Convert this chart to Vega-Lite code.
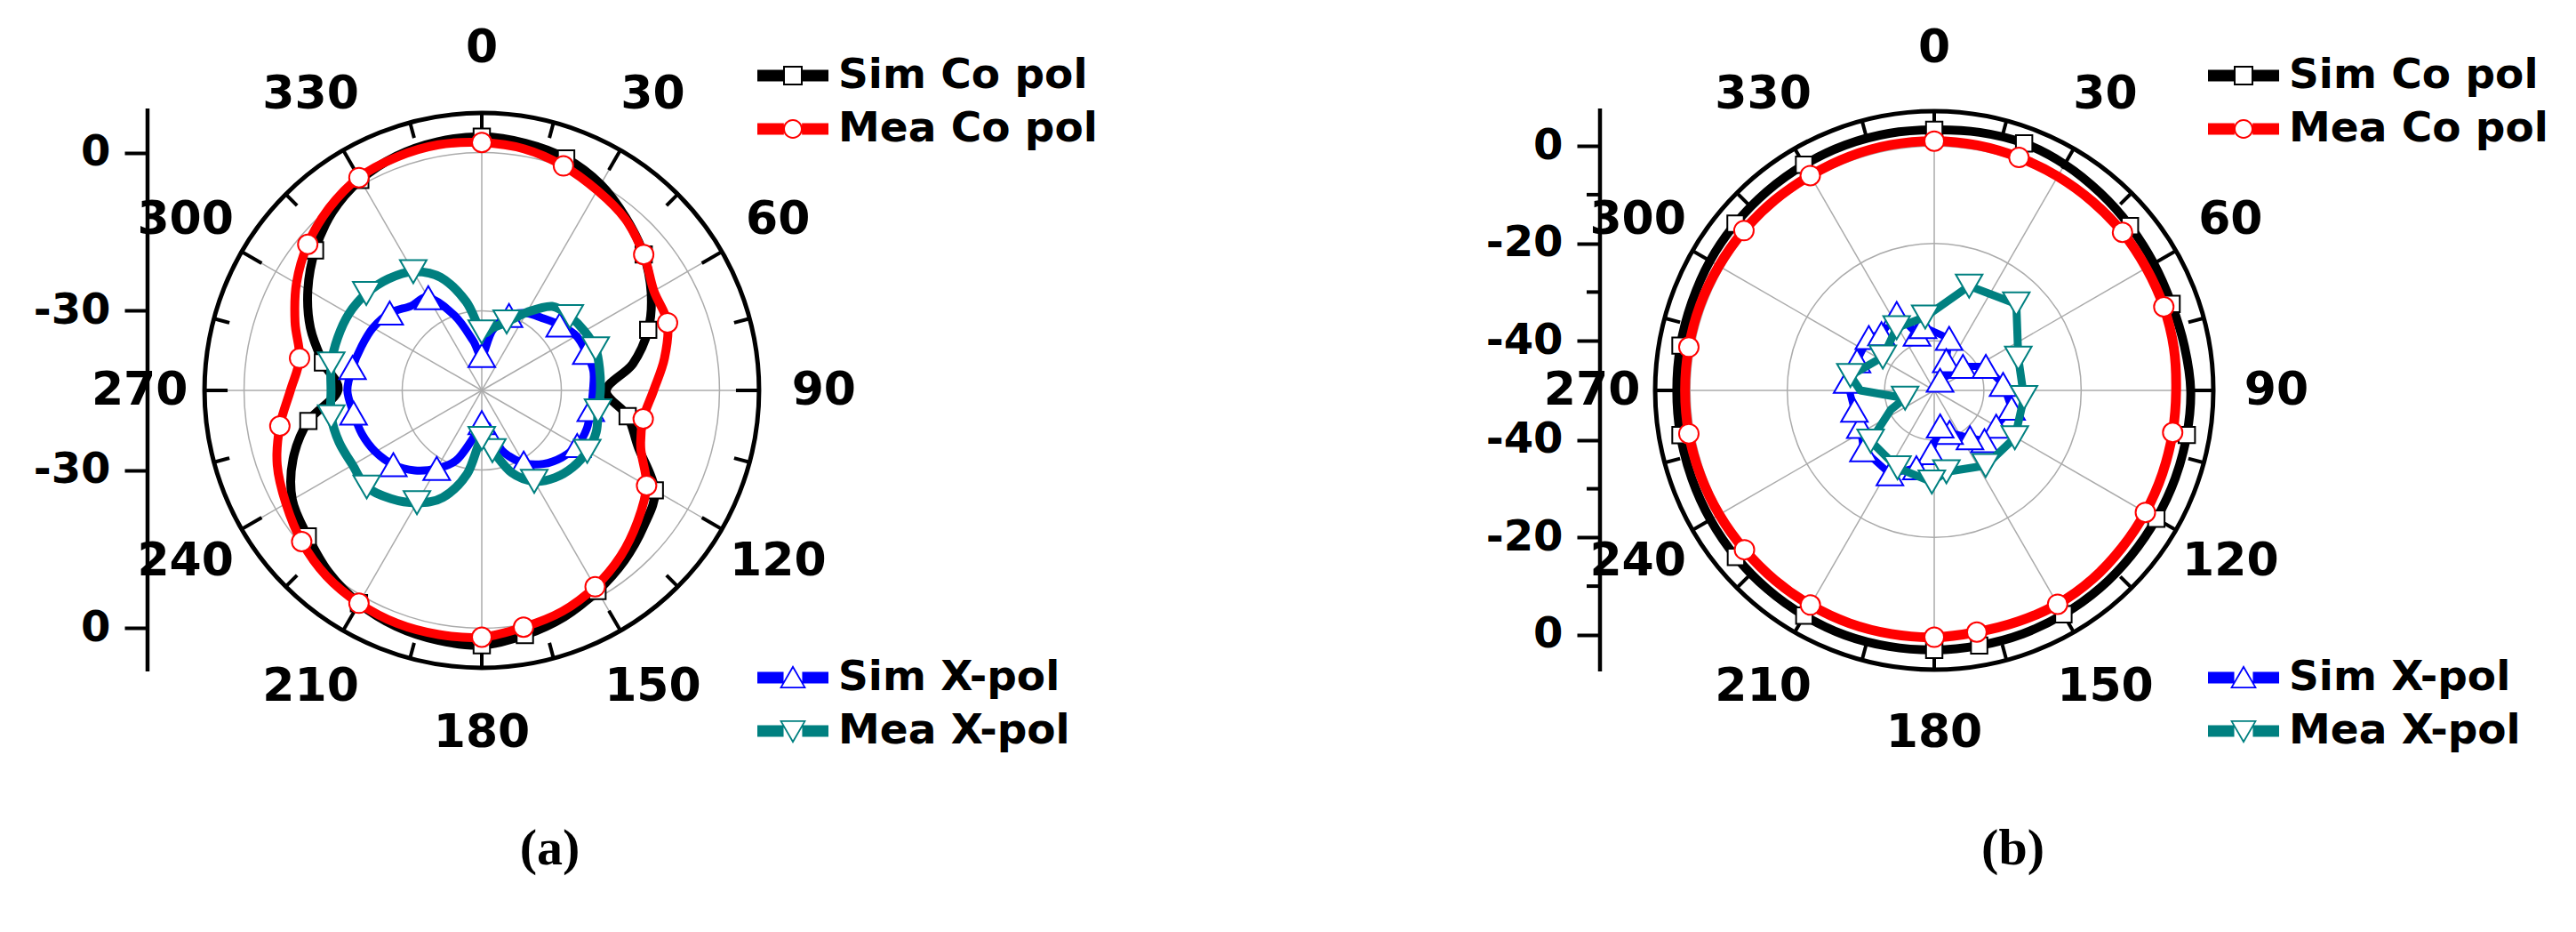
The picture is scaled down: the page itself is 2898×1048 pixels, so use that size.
{
  "$schema": "https://vega.github.io/schema/vega-lite/v6.json",
  "background": "white",
  "padding": 0,
  "spacing": 0,
  "bounds": "flush",
  "config": {"view": {"stroke": null}},
  "resolve": {"scale": {"color": "independent", "stroke": "independent"}, "legend": {"color": "independent", "stroke": "independent"}},
  "datasets": {
    "a": [
      {"series":"Sim Co pol","angle":0,"db":3.0},{"series":"Sim Co pol","angle":10,"db":2.5},{"series":"Sim Co pol","angle":20,"db":1.7},{"series":"Sim Co pol","angle":30,"db":0.0},{"series":"Sim Co pol","angle":40,"db":-2.5},{"series":"Sim Co pol","angle":50,"db":-5.0},{"series":"Sim Co pol","angle":60,"db":-8.0},{"series":"Sim Co pol","angle":70,"db":-11.5},{"series":"Sim Co pol","angle":80,"db":-16.0},{"series":"Sim Co pol","angle":90,"db":-21.5},{"series":"Sim Co pol","angle":100,"db":-17.0},{"series":"Sim Co pol","angle":110,"db":-13.5},{"series":"Sim Co pol","angle":120,"db":-7.2},{"series":"Sim Co pol","angle":130,"db":-5.0},{"series":"Sim Co pol","angle":140,"db":-3.0},{"series":"Sim Co pol","angle":150,"db":-1.2},{"series":"Sim Co pol","angle":160,"db":0.6},{"series":"Sim Co pol","angle":170,"db":2.0},{"series":"Sim Co pol","angle":180,"db":3.2},{"series":"Sim Co pol","angle":190,"db":3.0},{"series":"Sim Co pol","angle":200,"db":2.5},{"series":"Sim Co pol","angle":210,"db":1.5},{"series":"Sim Co pol","angle":220,"db":0.0},{"series":"Sim Co pol","angle":230,"db":-2.0},{"series":"Sim Co pol","angle":240,"db":-3.6},{"series":"Sim Co pol","angle":250,"db":-7.0},{"series":"Sim Co pol","angle":260,"db":-11.7},{"series":"Sim Co pol","angle":270,"db":-17.8},{"series":"Sim Co pol","angle":280,"db":-14.5},{"series":"Sim Co pol","angle":290,"db":-10.5},{"series":"Sim Co pol","angle":300,"db":-7.0},{"series":"Sim Co pol","angle":310,"db":-3.8},{"series":"Sim Co pol","angle":320,"db":-1.0},{"series":"Sim Co pol","angle":330,"db":1.0},{"series":"Sim Co pol","angle":340,"db":2.2},{"series":"Sim Co pol","angle":350,"db":2.8},
      {"series":"Mea Co pol","angle":0,"db":1.9},{"series":"Mea Co pol","angle":10,"db":1.4},{"series":"Mea Co pol","angle":20,"db":0.2},{"series":"Mea Co pol","angle":30,"db":-1.3},{"series":"Mea Co pol","angle":40,"db":-2.7},{"series":"Mea Co pol","angle":50,"db":-5.0},{"series":"Mea Co pol","angle":60,"db":-7.4},{"series":"Mea Co pol","angle":70,"db":-7.6},{"series":"Mea Co pol","angle":80,"db":-9.9},{"series":"Mea Co pol","angle":90,"db":-12.5},{"series":"Mea Co pol","angle":100,"db":-14.0},{"series":"Mea Co pol","angle":110,"db":-13.0},{"series":"Mea Co pol","angle":120,"db":-9.0},{"series":"Mea Co pol","angle":130,"db":-6.5},{"series":"Mea Co pol","angle":140,"db":-4.1},{"series":"Mea Co pol","angle":150,"db":-2.1},{"series":"Mea Co pol","angle":160,"db":-0.5},{"series":"Mea Co pol","angle":170,"db":0.5},{"series":"Mea Co pol","angle":180,"db":1.7},{"series":"Mea Co pol","angle":190,"db":1.9},{"series":"Mea Co pol","angle":200,"db":1.9},{"series":"Mea Co pol","angle":210,"db":1.5},{"series":"Mea Co pol","angle":220,"db":0.8},{"series":"Mea Co pol","angle":230,"db":-0.5},{"series":"Mea Co pol","angle":240,"db":-2.2},{"series":"Mea Co pol","angle":250,"db":-3.8},{"series":"Mea Co pol","angle":260,"db":-6.2},{"series":"Mea Co pol","angle":270,"db":-8.8},{"series":"Mea Co pol","angle":280,"db":-10.0},{"series":"Mea Co pol","angle":290,"db":-7.4},{"series":"Mea Co pol","angle":300,"db":-4.5},{"series":"Mea Co pol","angle":310,"db":-2.0},{"series":"Mea Co pol","angle":320,"db":0.0},{"series":"Mea Co pol","angle":330,"db":1.5},{"series":"Mea Co pol","angle":340,"db":2.0},{"series":"Mea Co pol","angle":350,"db":2.2},
      {"series":"Sim X-pol","angle":0,"db":-38.5},{"series":"Sim X-pol","angle":10,"db":-33.6},{"series":"Sim X-pol","angle":20,"db":-30.0},{"series":"Sim X-pol","angle":30,"db":-28.2},{"series":"Sim X-pol","angle":40,"db":-27.2},{"series":"Sim X-pol","angle":50,"db":-25.8},{"series":"Sim X-pol","angle":60,"db":-24.4},{"series":"Sim X-pol","angle":70,"db":-24.0},{"series":"Sim X-pol","angle":80,"db":-23.6},{"series":"Sim X-pol","angle":90,"db":-24.0},{"series":"Sim X-pol","angle":100,"db":-24.1},{"series":"Sim X-pol","angle":110,"db":-23.9},{"series":"Sim X-pol","angle":120,"db":-24.2},{"series":"Sim X-pol","angle":130,"db":-25.3},{"series":"Sim X-pol","angle":140,"db":-26.9},{"series":"Sim X-pol","angle":150,"db":-29.2},{"series":"Sim X-pol","angle":160,"db":-32.5},{"series":"Sim X-pol","angle":170,"db":-36.5},{"series":"Sim X-pol","angle":180,"db":-39.0},{"series":"Sim X-pol","angle":190,"db":-36.0},{"series":"Sim X-pol","angle":200,"db":-31.0},{"series":"Sim X-pol","angle":210,"db":-28.0},{"series":"Sim X-pol","angle":220,"db":-25.3},{"series":"Sim X-pol","angle":230,"db":-23.2},{"series":"Sim X-pol","angle":240,"db":-21.8},{"series":"Sim X-pol","angle":250,"db":-20.9},{"series":"Sim X-pol","angle":260,"db":-20.4},{"series":"Sim X-pol","angle":270,"db":-19.6},{"series":"Sim X-pol","angle":280,"db":-20.2},{"series":"Sim X-pol","angle":290,"db":-20.8},{"series":"Sim X-pol","angle":300,"db":-21.3},{"series":"Sim X-pol","angle":310,"db":-22.3},{"series":"Sim X-pol","angle":320,"db":-24.2},{"series":"Sim X-pol","angle":330,"db":-24.8},{"series":"Sim X-pol","angle":340,"db":-30.0},{"series":"Sim X-pol","angle":350,"db":-35.5},
      {"series":"Mea X-pol","angle":0,"db":-34.0},{"series":"Mea X-pol","angle":10,"db":-33.0},{"series":"Mea X-pol","angle":20,"db":-31.3},{"series":"Mea X-pol","angle":30,"db":-28.0},{"series":"Mea X-pol","angle":40,"db":-24.3},{"series":"Mea X-pol","angle":50,"db":-23.3},{"series":"Mea X-pol","angle":60,"db":-22.6},{"series":"Mea X-pol","angle":70,"db":-22.1},{"series":"Mea X-pol","angle":80,"db":-22.4},{"series":"Mea X-pol","angle":90,"db":-22.6},{"series":"Mea X-pol","angle":100,"db":-22.7},{"series":"Mea X-pol","angle":110,"db":-22.0},{"series":"Mea X-pol","angle":120,"db":-22.0},{"series":"Mea X-pol","angle":130,"db":-22.5},{"series":"Mea X-pol","angle":140,"db":-23.5},{"series":"Mea X-pol","angle":150,"db":-25.2},{"series":"Mea X-pol","angle":160,"db":-28.5},{"series":"Mea X-pol","angle":170,"db":-33.5},{"series":"Mea X-pol","angle":180,"db":-36.0},{"series":"Mea X-pol","angle":190,"db":-29.0},{"series":"Mea X-pol","angle":200,"db":-23.5},{"series":"Mea X-pol","angle":210,"db":-20.5},{"series":"Mea X-pol","angle":220,"db":-18.3},{"series":"Mea X-pol","angle":230,"db":-16.6},{"series":"Mea X-pol","angle":240,"db":-16.8},{"series":"Mea X-pol","angle":250,"db":-16.3},{"series":"Mea X-pol","angle":260,"db":-16.1},{"series":"Mea X-pol","angle":270,"db":-16.5},{"series":"Mea X-pol","angle":280,"db":-16.1},{"series":"Mea X-pol","angle":290,"db":-16.0},{"series":"Mea X-pol","angle":300,"db":-16.0},{"series":"Mea X-pol","angle":310,"db":-16.5},{"series":"Mea X-pol","angle":320,"db":-17.5},{"series":"Mea X-pol","angle":330,"db":-19.1},{"series":"Mea X-pol","angle":340,"db":-22.3},{"series":"Mea X-pol","angle":350,"db":-28.0}
    ],
    "b": [
      {"series":"Sim Co pol","angle":0,"db":3.3},{"series":"Sim Co pol","angle":10,"db":3.6},{"series":"Sim Co pol","angle":20,"db":3.8},{"series":"Sim Co pol","angle":30,"db":3.4},{"series":"Sim Co pol","angle":40,"db":2.8},{"series":"Sim Co pol","angle":50,"db":2.3},{"series":"Sim Co pol","angle":60,"db":1.9},{"series":"Sim Co pol","angle":70,"db":1.7},{"series":"Sim Co pol","angle":80,"db":2.0},{"series":"Sim Co pol","angle":90,"db":2.5},{"series":"Sim Co pol","angle":100,"db":2.5},{"series":"Sim Co pol","angle":110,"db":2.5},{"series":"Sim Co pol","angle":120,"db":2.5},{"series":"Sim Co pol","angle":130,"db":2.6},{"series":"Sim Co pol","angle":140,"db":2.8},{"series":"Sim Co pol","angle":150,"db":2.9},{"series":"Sim Co pol","angle":160,"db":3.0},{"series":"Sim Co pol","angle":170,"db":3.0},{"series":"Sim Co pol","angle":180,"db":3.1},{"series":"Sim Co pol","angle":190,"db":3.2},{"series":"Sim Co pol","angle":200,"db":3.3},{"series":"Sim Co pol","angle":210,"db":3.2},{"series":"Sim Co pol","angle":220,"db":3.1},{"series":"Sim Co pol","angle":230,"db":3.0},{"series":"Sim Co pol","angle":240,"db":2.9},{"series":"Sim Co pol","angle":250,"db":2.8},{"series":"Sim Co pol","angle":260,"db":2.75},{"series":"Sim Co pol","angle":270,"db":2.7},{"series":"Sim Co pol","angle":280,"db":2.75},{"series":"Sim Co pol","angle":290,"db":2.8},{"series":"Sim Co pol","angle":300,"db":3.0},{"series":"Sim Co pol","angle":310,"db":3.1},{"series":"Sim Co pol","angle":320,"db":3.2},{"series":"Sim Co pol","angle":330,"db":3.3},{"series":"Sim Co pol","angle":340,"db":3.4},{"series":"Sim Co pol","angle":350,"db":3.4},
      {"series":"Mea Co pol","angle":0,"db":1.0},{"series":"Mea Co pol","angle":10,"db":0.9},{"series":"Mea Co pol","angle":20,"db":0.7},{"series":"Mea Co pol","angle":30,"db":0.55},{"series":"Mea Co pol","angle":40,"db":0.4},{"series":"Mea Co pol","angle":50,"db":0.3},{"series":"Mea Co pol","angle":60,"db":0.1},{"series":"Mea Co pol","angle":70,"db":0.0},{"series":"Mea Co pol","angle":80,"db":-0.2},{"series":"Mea Co pol","angle":90,"db":-0.5},{"series":"Mea Co pol","angle":100,"db":-0.45},{"series":"Mea Co pol","angle":110,"db":-0.3},{"series":"Mea Co pol","angle":120,"db":-0.1},{"series":"Mea Co pol","angle":130,"db":0.1},{"series":"Mea Co pol","angle":140,"db":0.4},{"series":"Mea Co pol","angle":150,"db":0.5},{"series":"Mea Co pol","angle":160,"db":0.3},{"series":"Mea Co pol","angle":170,"db":0.2},{"series":"Mea Co pol","angle":180,"db":0.5},{"series":"Mea Co pol","angle":190,"db":0.6},{"series":"Mea Co pol","angle":200,"db":0.7},{"series":"Mea Co pol","angle":210,"db":0.7},{"series":"Mea Co pol","angle":220,"db":0.7},{"series":"Mea Co pol","angle":230,"db":0.7},{"series":"Mea Co pol","angle":240,"db":0.8},{"series":"Mea Co pol","angle":250,"db":0.9},{"series":"Mea Co pol","angle":260,"db":1.0},{"series":"Mea Co pol","angle":270,"db":1.0},{"series":"Mea Co pol","angle":280,"db":1.0},{"series":"Mea Co pol","angle":290,"db":1.0},{"series":"Mea Co pol","angle":300,"db":0.9},{"series":"Mea Co pol","angle":310,"db":0.85},{"series":"Mea Co pol","angle":320,"db":0.8},{"series":"Mea Co pol","angle":330,"db":0.75},{"series":"Mea Co pol","angle":340,"db":0.9},{"series":"Mea Co pol","angle":350,"db":1.0},
      {"series":"Sim X-pol","angle":16,"db":-39.1},{"series":"Sim X-pol","angle":22,"db":-43.6},{"series":"Sim X-pol","angle":30,"db":-47.8},{"series":"Sim X-pol","angle":50,"db":-42.5},{"series":"Sim X-pol","angle":65,"db":-38.5},{"series":"Sim X-pol","angle":85,"db":-36.0},{"series":"Sim X-pol","angle":103,"db":-33.9},{"series":"Sim X-pol","angle":120,"db":-35.5},{"series":"Sim X-pol","angle":135,"db":-35.6},{"series":"Sim X-pol","angle":143,"db":-38.0},{"series":"Sim X-pol","angle":160,"db":-41.0},{"series":"Sim X-pol","angle":170.5,"db":-42.8},{"series":"Sim X-pol","angle":183,"db":-37.4},{"series":"Sim X-pol","angle":193,"db":-33.9},{"series":"Sim X-pol","angle":208,"db":-30.8},{"series":"Sim X-pol","angle":230,"db":-31.2},{"series":"Sim X-pol","angle":244,"db":-33.3},{"series":"Sim X-pol","angle":256,"db":-33.3},{"series":"Sim X-pol","angle":276,"db":-32.2},{"series":"Sim X-pol","angle":291,"db":-33.2},{"series":"Sim X-pol","angle":309,"db":-32.9},{"series":"Sim X-pol","angle":317,"db":-34.3},{"series":"Sim X-pol","angle":334,"db":-32.6},{"series":"Sim X-pol","angle":343,"db":-38.1},{"series":"Sim X-pol","angle":350,"db":-36.9},
      {"series":"Mea X-pol","angle":18.5,"db":-27.6},{"series":"Mea X-pol","angle":43.5,"db":-25.7},{"series":"Mea X-pol","angle":69,"db":-31.7},{"series":"Mea X-pol","angle":94.5,"db":-31.7},{"series":"Mea X-pol","angle":120.4,"db":-31.0},{"series":"Mea X-pol","angle":145.6,"db":-31.5},{"series":"Mea X-pol","angle":171.5,"db":-33.3},{"series":"Mea X-pol","angle":181.5,"db":-31.4},{"series":"Mea X-pol","angle":205.4,"db":-32.6},{"series":"Mea X-pol","angle":231.5,"db":-33.5},{"series":"Mea X-pol","angle":246,"db":-40.4},{"series":"Mea X-pol","angle":255,"db":-44.0},{"series":"Mea X-pol","angle":270,"db":-35.0},{"series":"Mea X-pol","angle":280,"db":-32.7},{"series":"Mea X-pol","angle":303,"db":-37.6},{"series":"Mea X-pol","angle":329,"db":-35.2},{"series":"Mea X-pol","angle":353,"db":-35.0}
    ],
    "spokes": [{"angle":0},{"angle":30},{"angle":60},{"angle":90},{"angle":120},{"angle":150},{"angle":180},{"angle":210},{"angle":240},{"angle":270},{"angle":300},{"angle":330}],
    "ticks": [{"angle":0},{"angle":15},{"angle":30},{"angle":45},{"angle":60},{"angle":75},{"angle":90},{"angle":105},{"angle":120},{"angle":135},{"angle":150},{"angle":165},{"angle":180},{"angle":195},{"angle":210},{"angle":225},{"angle":240},{"angle":255},{"angle":270},{"angle":285},{"angle":300},{"angle":315},{"angle":330},{"angle":345}]
  },
  "hconcat": [
    {
      "width": 1449,
      "height": 1048,
      "title": {"text": "(a)", "orient": "bottom", "frame": "group", "anchor": "middle", "offset": -76, "dx": -106, "baseline": "alphabetic", "font": "Liberation Serif", "fontSize": 58, "fontWeight": "bold", "color": "#000000"},
      "encoding": {
        "x": {"field": "px", "type": "quantitative", "scale": {"domain": [-91.40, 152.95], "nice": false, "zero": false}, "axis": null},
        "y": {"field": "py", "type": "quantitative", "scale": {"domain": [-102.70, 74.03], "nice": false, "zero": false},
              "axis": {"values": [45.1, 15.1, -15.1, -45.1], "labelExpr": "toString(round(abs(datum.value) - 45.1))", "title": null, "domain": false, "grid": false, "ticks": true, "tickSize": 26, "tickWidth": 4, "tickColor": "#000000", "labelFont": "DejaVu Sans", "labelFontWeight": "bold", "labelFontSize": 48, "labelColor": "#000000", "labelPadding": 16, "offset": -166, "labelOverlap": false, "labelFlush": false, "labelBound": false}}
      },
      "layer": [
        {"data": {"values": [{"db": -30}, {"db": 0}]},
         "transform": [{"calculate": "0", "as": "px"}, {"calculate": "0", "as": "py"}, {"calculate": "pow((datum.db + 45.1) * 11.86, 2)", "as": "s"}],
         "mark": {"type": "point", "shape": "circle", "filled": false, "stroke": "#ababab", "strokeWidth": 1.5, "opacity": 1},
         "encoding": {"size": {"field": "s", "type": "quantitative", "scale": null, "legend": null}}},
        {"data": {"name": "spokes"},
         "transform": [{"calculate": "0", "as": "px"}, {"calculate": "0", "as": "py"}, {"calculate": "52.6 * sin(datum.angle * PI / 180)", "as": "px2"}, {"calculate": "52.6 * cos(datum.angle * PI / 180)", "as": "py2"}],
         "mark": {"type": "rule", "stroke": "#ababab", "strokeWidth": 1.5},
         "encoding": {"x2": {"field": "px2"}, "y2": {"field": "py2"}}},
        {"data": {"values": [{"db": 7.5}]},
         "transform": [{"calculate": "0", "as": "px"}, {"calculate": "0", "as": "py"}, {"calculate": "pow((datum.db + 45.1) * 11.86, 2)", "as": "s"}],
         "mark": {"type": "point", "shape": "circle", "filled": false, "stroke": "#000000", "strokeWidth": 5, "opacity": 1},
         "encoding": {"size": {"field": "s", "type": "quantitative", "scale": null, "legend": null}}},
        {"data": {"name": "ticks"},
         "transform": [{"calculate": "datum.angle % 30 == 0 ? 4.38 : 3.04", "as": "len"}, {"calculate": "(52.6 - datum.len) * sin(datum.angle * PI / 180)", "as": "px"}, {"calculate": "(52.6 - datum.len) * cos(datum.angle * PI / 180)", "as": "py"}, {"calculate": "52.6 * sin(datum.angle * PI / 180)", "as": "px2"}, {"calculate": "52.6 * cos(datum.angle * PI / 180)", "as": "py2"}],
         "mark": {"type": "rule", "stroke": "#000000", "strokeWidth": 4},
         "encoding": {"x2": {"field": "px2"}, "y2": {"field": "py2"}}},
        {"data": {"name": "spokes"},
         "transform": [{"calculate": "64.9 * sin(datum.angle * PI / 180)", "as": "px"}, {"calculate": "64.9 * cos(datum.angle * PI / 180)", "as": "py"}],
         "mark": {"type": "text", "font": "DejaVu Sans", "fontWeight": "bold", "fontSize": 52, "fill": "#000000", "align": "center", "baseline": "middle"},
         "encoding": {"text": {"field": "angle", "type": "quantitative", "format": "d"}}},
        {"data": {"values": [{}]},
         "transform": [{"calculate": "-63.41", "as": "px"}, {"calculate": "-53.29", "as": "py"}, {"calculate": "53.46", "as": "py2"}],
         "mark": {"type": "rule", "stroke": "#000000", "strokeWidth": 4.5},
         "encoding": {"y2": {"field": "py2"}}},
        {"data": {"name": "a"},
         "transform": [{"filter": "datum.series === 'Sim Co pol'"}, {"calculate": "(datum.db + 45.1) * sin(datum.angle * PI / 180)", "as": "px"}, {"calculate": "(datum.db + 45.1) * cos(datum.angle * PI / 180)", "as": "py"}],
         "mark": {"type": "line", "interpolate": "cardinal-closed", "strokeWidth": 10, "strokeJoin": "round"},
         "encoding": {"order": {"field": "angle", "type": "quantitative"},
           "color": {"field": "series", "type": "nominal", "scale": {"domain": ["Sim Co pol", "Mea Co pol"], "range": ["#000000", "#ff0000"]},
             "legend": {"title": null, "orient": "none", "legendX": 861, "legendY": 54, "padding": 0, "symbolSize": 3787, "symbolStrokeWidth": 0, "labelOffset": 20, "labelFont": "DejaVu Sans", "labelFontWeight": "bold", "labelFontSize": 47, "labelColor": "#000000", "labelLimit": 0, "rowPadding": 6,
               "encode": {"symbols": {"update": {"shape": {"signal": "datum.value === 'Sim Co pol' ? 'M-1.3,-0.211L-0.33,-0.211L-0.33,0.211L-1.3,0.211ZM0.33,-0.211L1.3,-0.211L1.3,0.211L0.33,0.211ZM-0.357,-0.357L0.357,-0.357L0.357,0.357L-0.357,0.357ZM-0.292,-0.292L-0.292,0.292L0.292,0.292L0.292,-0.292Z' : 'M-1.3,-0.211L-0.33,-0.211L-0.33,0.211L-1.3,0.211ZM0.33,-0.211L1.3,-0.211L1.3,0.211L0.33,0.211ZM0.357,0A0.357,0.357,0,1,1,-0.357,0A0.357,0.357,0,1,1,0.357,0ZM0.292,0A0.292,0.292,0,1,0,-0.292,0A0.292,0.292,0,1,0,0.292,0Z'"}, "fill": {"signal": "datum.value === 'Sim Co pol' ? '#000000' : '#ff0000'"}, "stroke": {"value": "transparent"}, "strokeWidth": {"value": 0}, "opacity": {"value": 1}}}}}}}},
        {"data": {"name": "a"},
         "transform": [{"filter": "datum.series === 'Sim Co pol'"}, {"filter": {"field": "angle", "oneOf": [0,20,50,70,100,120,150,170,180,210,230,260,280,310,330]}}, {"calculate": "(datum.db + 45.1) * sin(datum.angle * PI / 180)", "as": "px"}, {"calculate": "(datum.db + 45.1) * cos(datum.angle * PI / 180)", "as": "py"}],
         "mark": {"type": "point", "shape": "square", "size": 340, "filled": false, "fill": "#ffffff", "strokeWidth": 2, "opacity": 1},
         "encoding": {"color": {"field": "series", "type": "nominal", "scale": {"domain": ["Sim Co pol", "Mea Co pol"], "range": ["#000000", "#ff0000"]}}}},
        {"data": {"name": "a"},
         "transform": [{"filter": "datum.series === 'Mea Co pol'"}, {"calculate": "(datum.db + 45.1) * sin(datum.angle * PI / 180)", "as": "px"}, {"calculate": "(datum.db + 45.1) * cos(datum.angle * PI / 180)", "as": "py"}],
         "mark": {"type": "line", "interpolate": "cardinal-closed", "strokeWidth": 10, "strokeJoin": "round"},
         "encoding": {"order": {"field": "angle", "type": "quantitative"}, "color": {"field": "series", "type": "nominal", "scale": {"domain": ["Sim Co pol", "Mea Co pol"], "range": ["#000000", "#ff0000"]}}}},
        {"data": {"name": "a"},
         "transform": [{"filter": "datum.series === 'Mea Co pol'"}, {"filter": {"field": "angle", "oneOf": [0,20,50,70,100,120,150,170,180,210,230,260,280,310,330]}}, {"calculate": "(datum.db + 45.1) * sin(datum.angle * PI / 180)", "as": "px"}, {"calculate": "(datum.db + 45.1) * cos(datum.angle * PI / 180)", "as": "py"}],
         "mark": {"type": "point", "shape": "circle", "size": 484, "filled": false, "fill": "#ffffff", "strokeWidth": 2, "opacity": 1},
         "encoding": {"color": {"field": "series", "type": "nominal", "scale": {"domain": ["Sim Co pol", "Mea Co pol"], "range": ["#000000", "#ff0000"]}}}},
        {"data": {"name": "a"},
         "transform": [{"filter": "datum.series === 'Sim X-pol'"}, {"calculate": "(datum.db + 45.1) * sin(datum.angle * PI / 180)", "as": "px"}, {"calculate": "(datum.db + 45.1) * cos(datum.angle * PI / 180)", "as": "py"}],
         "mark": {"type": "line", "interpolate": "cardinal-closed", "strokeWidth": 9, "strokeJoin": "round"},
         "encoding": {"order": {"field": "angle", "type": "quantitative"},
           "stroke": {"field": "series", "type": "nominal", "scale": {"domain": ["Sim X-pol", "Mea X-pol"], "range": ["#0000ff", "#008080"]},
             "legend": {"title": null, "orient": "none", "legendX": 861, "legendY": 731, "padding": 0, "symbolSize": 3787, "symbolStrokeWidth": 0, "labelOffset": 20, "labelFont": "DejaVu Sans", "labelFontWeight": "bold", "labelFontSize": 47, "labelColor": "#000000", "labelLimit": 0, "rowPadding": 6,
               "encode": {"symbols": {"update": {"shape": {"signal": "datum.value === 'Sim X-pol' ? 'M-1.3,-0.211L-0.34,-0.211L-0.34,0.211L-1.3,0.211ZM0.34,-0.211L1.3,-0.211L1.3,0.211L0.34,0.211ZM-0.487,0.39L0,-0.455L0.487,0.39ZM-0.39,0.33L0.39,0.33L0,-0.33Z' : 'M-1.3,-0.211L-0.34,-0.211L-0.34,0.211L-1.3,0.211ZM0.34,-0.211L1.3,-0.211L1.3,0.211L0.34,0.211ZM-0.487,-0.39L0.487,-0.39L0,0.455ZM-0.39,-0.33L0,0.33L0.39,-0.33Z'"}, "fill": {"signal": "datum.value === 'Sim X-pol' ? '#0000ff' : '#008080'"}, "stroke": {"value": "transparent"}, "strokeWidth": {"value": 0}, "opacity": {"value": 1}}}}}}}},
        {"data": {"name": "a"},
         "transform": [{"filter": "datum.series === 'Sim X-pol'"}, {"filter": {"field": "angle", "oneOf": [0,20,50,70,100,120,150,170,180,210,230,260,280,310,330]}}, {"calculate": "(datum.db + 45.1) * sin(datum.angle * PI / 180)", "as": "px"}, {"calculate": "(datum.db + 45.1) * cos(datum.angle * PI / 180)", "as": "py"}],
         "mark": {"type": "point", "shape": "triangle-up", "size": 900, "filled": false, "fill": "#ffffff", "strokeWidth": 2, "opacity": 1},
         "encoding": {"stroke": {"field": "series", "type": "nominal", "scale": {"domain": ["Sim X-pol", "Mea X-pol"], "range": ["#0000ff", "#008080"]}}}},
        {"data": {"name": "a"},
         "transform": [{"filter": "datum.series === 'Mea X-pol'"}, {"calculate": "(datum.db + 45.1) * sin(datum.angle * PI / 180)", "as": "px"}, {"calculate": "(datum.db + 45.1) * cos(datum.angle * PI / 180)", "as": "py"}],
         "mark": {"type": "line", "interpolate": "cardinal-closed", "strokeWidth": 10, "strokeJoin": "round"},
         "encoding": {"order": {"field": "angle", "type": "quantitative"}, "stroke": {"field": "series", "type": "nominal", "scale": {"domain": ["Sim X-pol", "Mea X-pol"], "range": ["#0000ff", "#008080"]}}}},
        {"data": {"name": "a"},
         "transform": [{"filter": "datum.series === 'Mea X-pol'"}, {"filter": {"field": "angle", "oneOf": [0,20,50,70,100,120,150,170,180,210,230,260,280,310,330]}}, {"calculate": "(datum.db + 45.1) * sin(datum.angle * PI / 180)", "as": "px"}, {"calculate": "(datum.db + 45.1) * cos(datum.angle * PI / 180)", "as": "py"}],
         "mark": {"type": "point", "shape": "triangle-down", "size": 900, "filled": false, "fill": "#ffffff", "strokeWidth": 2, "opacity": 1},
         "encoding": {"stroke": {"field": "series", "type": "nominal", "scale": {"domain": ["Sim X-pol", "Mea X-pol"], "range": ["#0000ff", "#008080"]}}}}
      ]
    },
    {
      "width": 1449,
      "height": 1048,
      "title": {"text": "(b)", "orient": "bottom", "frame": "group", "anchor": "middle", "offset": -76, "dx": 91, "baseline": "alphabetic", "font": "Liberation Serif", "fontSize": 58, "fontWeight": "bold", "color": "#000000"},
      "encoding": {
        "x": {"field": "px", "type": "quantitative", "scale": {"domain": [-132.79, 131.87], "nice": false, "zero": false}, "axis": null},
        "y": {"field": "py", "type": "quantitative", "scale": {"domain": [-111.23, 80.18], "nice": false, "zero": false},
              "axis": {"values": [50.2, 30.2, 10.2, -10.2, -30.2, -50.2], "labelExpr": "toString(round(abs(datum.value) - 50.2))", "title": null, "domain": false, "grid": false, "ticks": true, "tickSize": 26, "tickWidth": 4, "tickColor": "#000000", "labelFont": "DejaVu Sans", "labelFontWeight": "bold", "labelFontSize": 48, "labelColor": "#000000", "labelPadding": 16, "offset": -351, "labelOverlap": false, "labelFlush": false, "labelBound": false}}
      },
      "layer": [
        {"data": {"values": [{"db": -40}, {"db": -20}, {"db": 0}]},
         "transform": [{"calculate": "0", "as": "px"}, {"calculate": "0", "as": "py"}, {"calculate": "pow((datum.db + 50.2) * 10.95, 2)", "as": "s"}],
         "mark": {"type": "point", "shape": "circle", "filled": false, "stroke": "#ababab", "strokeWidth": 1.5, "opacity": 1},
         "encoding": {"size": {"field": "s", "type": "quantitative", "scale": null, "legend": null}}},
        {"data": {"name": "spokes"},
         "transform": [{"calculate": "0", "as": "px"}, {"calculate": "0", "as": "py"}, {"calculate": "57.35 * sin(datum.angle * PI / 180)", "as": "px2"}, {"calculate": "57.35 * cos(datum.angle * PI / 180)", "as": "py2"}],
         "mark": {"type": "rule", "stroke": "#ababab", "strokeWidth": 1.5},
         "encoding": {"x2": {"field": "px2"}, "y2": {"field": "py2"}}},
        {"data": {"values": [{"db": 7.15}]},
         "transform": [{"calculate": "0", "as": "px"}, {"calculate": "0", "as": "py"}, {"calculate": "pow((datum.db + 50.2) * 10.95, 2)", "as": "s"}],
         "mark": {"type": "point", "shape": "circle", "filled": false, "stroke": "#000000", "strokeWidth": 5, "opacity": 1},
         "encoding": {"size": {"field": "s", "type": "quantitative", "scale": null, "legend": null}}},
        {"data": {"name": "ticks"},
         "transform": [{"calculate": "datum.angle % 30 == 0 ? 4.75 : 3.29", "as": "len"}, {"calculate": "(57.35 - datum.len) * sin(datum.angle * PI / 180)", "as": "px"}, {"calculate": "(57.35 - datum.len) * cos(datum.angle * PI / 180)", "as": "py"}, {"calculate": "57.35 * sin(datum.angle * PI / 180)", "as": "px2"}, {"calculate": "57.35 * cos(datum.angle * PI / 180)", "as": "py2"}],
         "mark": {"type": "rule", "stroke": "#000000", "strokeWidth": 4},
         "encoding": {"x2": {"field": "px2"}, "y2": {"field": "py2"}}},
        {"data": {"name": "spokes"},
         "transform": [{"calculate": "70.3 * sin(datum.angle * PI / 180)", "as": "px"}, {"calculate": "70.3 * cos(datum.angle * PI / 180)", "as": "py"}],
         "mark": {"type": "text", "font": "DejaVu Sans", "fontWeight": "bold", "fontSize": 52, "fill": "#000000", "align": "center", "baseline": "middle"},
         "encoding": {"text": {"field": "angle", "type": "quantitative", "format": "d"}}},
        {"data": {"values": [{}]},
         "transform": [{"calculate": "-68.68", "as": "px"}, {"calculate": "-57.72", "as": "py"}, {"calculate": "57.9", "as": "py2"}],
         "mark": {"type": "rule", "stroke": "#000000", "strokeWidth": 4.5},
         "encoding": {"y2": {"field": "py2"}}},
        {"data": {"values": [{"db": -10, "half": "upper"}, {"db": -30, "half": "upper"}, {"db": -10, "half": "lower"}, {"db": -30, "half": "lower"}]},
         "transform": [{"calculate": "-71.42", "as": "px"}, {"calculate": "-68.68", "as": "px2"}, {"calculate": "(datum.half === 'upper' ? 1 : -1) * (datum.db + 50.2)", "as": "py"}],
         "mark": {"type": "rule", "stroke": "#000000", "strokeWidth": 4},
         "encoding": {"x2": {"field": "px2"}}},
        {"data": {"name": "b"},
         "transform": [{"filter": "datum.series === 'Sim Co pol'"}, {"calculate": "(datum.db + 50.2) * sin(datum.angle * PI / 180)", "as": "px"}, {"calculate": "(datum.db + 50.2) * cos(datum.angle * PI / 180)", "as": "py"}],
         "mark": {"type": "line", "interpolate": "cardinal-closed", "strokeWidth": 10, "strokeJoin": "round"},
         "encoding": {"order": {"field": "angle", "type": "quantitative"},
           "color": {"field": "series", "type": "nominal", "scale": {"domain": ["Sim Co pol", "Mea Co pol"], "range": ["#000000", "#ff0000"]},
             "legend": {"title": null, "orient": "none", "legendX": 1044, "legendY": 54, "padding": 0, "symbolSize": 3787, "symbolStrokeWidth": 0, "labelOffset": 20, "labelFont": "DejaVu Sans", "labelFontWeight": "bold", "labelFontSize": 47, "labelColor": "#000000", "labelLimit": 0, "rowPadding": 6,
               "encode": {"symbols": {"update": {"shape": {"signal": "datum.value === 'Sim Co pol' ? 'M-1.3,-0.211L-0.33,-0.211L-0.33,0.211L-1.3,0.211ZM0.33,-0.211L1.3,-0.211L1.3,0.211L0.33,0.211ZM-0.357,-0.357L0.357,-0.357L0.357,0.357L-0.357,0.357ZM-0.292,-0.292L-0.292,0.292L0.292,0.292L0.292,-0.292Z' : 'M-1.3,-0.211L-0.33,-0.211L-0.33,0.211L-1.3,0.211ZM0.33,-0.211L1.3,-0.211L1.3,0.211L0.33,0.211ZM0.357,0A0.357,0.357,0,1,1,-0.357,0A0.357,0.357,0,1,1,0.357,0ZM0.292,0A0.292,0.292,0,1,0,-0.292,0A0.292,0.292,0,1,0,0.292,0Z'"}, "fill": {"signal": "datum.value === 'Sim Co pol' ? '#000000' : '#ff0000'"}, "stroke": {"value": "transparent"}, "strokeWidth": {"value": 0}, "opacity": {"value": 1}}}}}}}},
        {"data": {"name": "b"},
         "transform": [{"filter": "datum.series === 'Sim Co pol'"}, {"filter": {"field": "angle", "oneOf": [0,20,50,70,100,120,150,170,180,210,230,260,280,310,330]}}, {"calculate": "(datum.db + 50.2) * sin(datum.angle * PI / 180)", "as": "px"}, {"calculate": "(datum.db + 50.2) * cos(datum.angle * PI / 180)", "as": "py"}],
         "mark": {"type": "point", "shape": "square", "size": 340, "filled": false, "fill": "#ffffff", "strokeWidth": 2, "opacity": 1},
         "encoding": {"color": {"field": "series", "type": "nominal", "scale": {"domain": ["Sim Co pol", "Mea Co pol"], "range": ["#000000", "#ff0000"]}}}},
        {"data": {"name": "b"},
         "transform": [{"filter": "datum.series === 'Mea Co pol'"}, {"calculate": "(datum.db + 50.2) * sin(datum.angle * PI / 180)", "as": "px"}, {"calculate": "(datum.db + 50.2) * cos(datum.angle * PI / 180)", "as": "py"}],
         "mark": {"type": "line", "interpolate": "cardinal-closed", "strokeWidth": 11, "strokeJoin": "round"},
         "encoding": {"order": {"field": "angle", "type": "quantitative"}, "color": {"field": "series", "type": "nominal", "scale": {"domain": ["Sim Co pol", "Mea Co pol"], "range": ["#000000", "#ff0000"]}}}},
        {"data": {"name": "b"},
         "transform": [{"filter": "datum.series === 'Mea Co pol'"}, {"filter": {"field": "angle", "oneOf": [0,20,50,70,100,120,150,170,180,210,230,260,280,310,330]}}, {"calculate": "(datum.db + 50.2) * sin(datum.angle * PI / 180)", "as": "px"}, {"calculate": "(datum.db + 50.2) * cos(datum.angle * PI / 180)", "as": "py"}],
         "mark": {"type": "point", "shape": "circle", "size": 484, "filled": false, "fill": "#ffffff", "strokeWidth": 2, "opacity": 1},
         "encoding": {"color": {"field": "series", "type": "nominal", "scale": {"domain": ["Sim Co pol", "Mea Co pol"], "range": ["#000000", "#ff0000"]}}}},
        {"data": {"name": "b"},
         "transform": [{"filter": "datum.series === 'Sim X-pol'"}, {"calculate": "(datum.db + 50.2) * sin(datum.angle * PI / 180)", "as": "px"}, {"calculate": "(datum.db + 50.2) * cos(datum.angle * PI / 180)", "as": "py"}],
         "mark": {"type": "line", "interpolate": "linear-closed", "strokeWidth": 8, "strokeJoin": "round"},
         "encoding": {"order": {"field": "angle", "type": "quantitative"},
           "stroke": {"field": "series", "type": "nominal", "scale": {"domain": ["Sim X-pol", "Mea X-pol"], "range": ["#0000ff", "#008080"]},
             "legend": {"title": null, "orient": "none", "legendX": 1044, "legendY": 731, "padding": 0, "symbolSize": 3787, "symbolStrokeWidth": 0, "labelOffset": 20, "labelFont": "DejaVu Sans", "labelFontWeight": "bold", "labelFontSize": 47, "labelColor": "#000000", "labelLimit": 0, "rowPadding": 6,
               "encode": {"symbols": {"update": {"shape": {"signal": "datum.value === 'Sim X-pol' ? 'M-1.3,-0.211L-0.34,-0.211L-0.34,0.211L-1.3,0.211ZM0.34,-0.211L1.3,-0.211L1.3,0.211L0.34,0.211ZM-0.487,0.39L0,-0.455L0.487,0.39ZM-0.39,0.33L0.39,0.33L0,-0.33Z' : 'M-1.3,-0.211L-0.34,-0.211L-0.34,0.211L-1.3,0.211ZM0.34,-0.211L1.3,-0.211L1.3,0.211L0.34,0.211ZM-0.487,-0.39L0.487,-0.39L0,0.455ZM-0.39,-0.33L0,0.33L0.39,-0.33Z'"}, "fill": {"signal": "datum.value === 'Sim X-pol' ? '#0000ff' : '#008080'"}, "stroke": {"value": "transparent"}, "strokeWidth": {"value": 0}, "opacity": {"value": 1}}}}}}}},
        {"data": {"name": "b"},
         "transform": [{"filter": "datum.series === 'Sim X-pol'"}, {"calculate": "(datum.db + 50.2) * sin(datum.angle * PI / 180)", "as": "px"}, {"calculate": "(datum.db + 50.2) * cos(datum.angle * PI / 180)", "as": "py"}],
         "mark": {"type": "point", "shape": "triangle-up", "size": 900, "filled": false, "fill": "#ffffff", "strokeWidth": 2, "opacity": 1},
         "encoding": {"stroke": {"field": "series", "type": "nominal", "scale": {"domain": ["Sim X-pol", "Mea X-pol"], "range": ["#0000ff", "#008080"]}}}},
        {"data": {"name": "b"},
         "transform": [{"filter": "datum.series === 'Mea X-pol'"}, {"calculate": "(datum.db + 50.2) * sin(datum.angle * PI / 180)", "as": "px"}, {"calculate": "(datum.db + 50.2) * cos(datum.angle * PI / 180)", "as": "py"}],
         "mark": {"type": "line", "interpolate": "linear-closed", "strokeWidth": 9, "strokeJoin": "round"},
         "encoding": {"order": {"field": "angle", "type": "quantitative"}, "stroke": {"field": "series", "type": "nominal", "scale": {"domain": ["Sim X-pol", "Mea X-pol"], "range": ["#0000ff", "#008080"]}}}},
        {"data": {"name": "b"},
         "transform": [{"filter": "datum.series === 'Mea X-pol'"}, {"filter": {"not": {"field": "angle", "oneOf": [246, 270]}}}, {"calculate": "(datum.db + 50.2) * sin(datum.angle * PI / 180)", "as": "px"}, {"calculate": "(datum.db + 50.2) * cos(datum.angle * PI / 180)", "as": "py"}],
         "mark": {"type": "point", "shape": "triangle-down", "size": 900, "filled": false, "fill": "#ffffff", "strokeWidth": 2, "opacity": 1},
         "encoding": {"stroke": {"field": "series", "type": "nominal", "scale": {"domain": ["Sim X-pol", "Mea X-pol"], "range": ["#0000ff", "#008080"]}}}}
      ]
    }
  ]
}
